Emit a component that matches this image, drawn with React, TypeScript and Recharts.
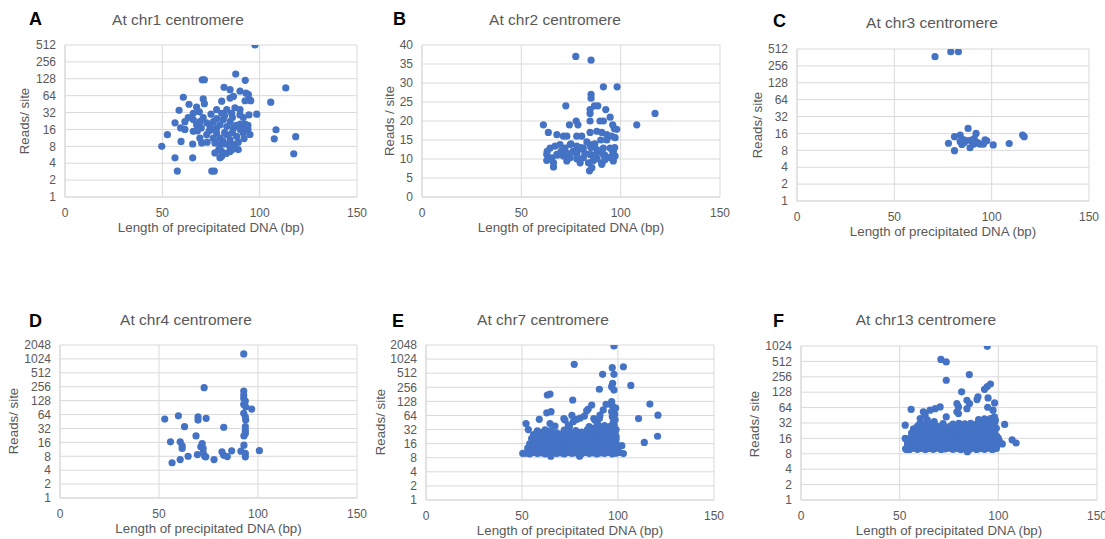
import { ScatterChart, Scatter, XAxis, YAxis, CartesianGrid } from 'recharts';

type Pt = [number, number];

const xTicks = [0, 50, 100, 150];
const log512Ticks = [1, 2, 4, 8, 16, 32, 64, 128, 256, 512];
const log1024Ticks = [1, 2, 4, 8, 16, 32, 64, 128, 256, 512, 1024];
const log2048Ticks = [1, 2, 4, 8, 16, 32, 64, 128, 256, 512, 1024, 2048];
const linear40Ticks = [0, 5, 10, 15, 20, 25, 30, 35, 40];

// [length bp, reads per site]
const chr1Points: Pt[] = [
  [97.6, 512], [87.7, 155], [70.5, 123], [71.6, 123], [92.6, 120], [113.4, 88],
  [81.7, 90], [84.8, 82], [60.8, 60], [71, 56], [71.6, 46], [63.7, 45], [80.5, 51],
  [105.7, 49], [89.9, 77], [93, 71], [94.2, 67], [95, 54], [95.4, 52], [92.5, 52],
  [84.8, 58], [86.5, 62], [58.6, 35], [67.6, 40], [69, 33], [65.9, 31], [63.3, 26],
  [61.6, 22], [56.5, 21], [77.9, 36], [80.5, 31], [83.1, 36], [85.6, 31], [87.3, 39],
  [89.9, 36], [89.9, 29], [91.6, 26], [94.5, 29], [98.5, 30],
  [65.9, 24], [67.6, 19.4], [69.3, 22], [71, 26], [72.8, 21], [74.5, 18], [76.2, 22],
  [77.9, 17], [79.6, 19.4], [81.3, 24], [83.1, 18], [84.8, 22], [86.5, 17],
  [59.4, 17], [61.6, 16], [52.6, 12.9],
  [65.9, 14.8], [69.3, 11.2], [72.8, 12.9], [76.2, 11.2], [77.9, 13.8], [79.6, 11.2],
  [83.1, 12.9], [84.8, 10.5], [88.2, 12], [91.6, 13.8], [93.3, 17], [92.5, 20],
  [59.6, 9.8], [65.6, 8.8], [70.2, 9.2], [77, 9.2], [79.6, 8.4], [82.2, 8.8], [84.8, 7.5],
  [87.3, 8.6], [89, 7], [77, 6.1], [80.5, 6.5], [84.8, 6.5],
  [49.7, 8], [56.5, 5], [65.6, 5], [79.6, 5], [80.5, 5.3], [108.4, 15.8], [107.5, 10.9],
  [118.5, 11.9], [117.5, 5.9], [57.7, 2.9], [75.4, 2.9], [76.7, 2.9],
  [74, 15], [76, 16], [82, 14], [86, 14], [88, 19], [90, 16], [92, 11], [78, 25],
  [82, 28], [86, 26], [75, 30], [70, 17], [68, 15], [73, 9.5], [81, 10], [85, 9],
  [89, 9.5], [83, 6], [86, 7], [79, 7], [94, 16], [94, 19], [90, 20], [95, 13],
];

const chr2Points: Pt[] = [
  [77.4, 37], [85.1, 36], [91.3, 29], [98.2, 29], [85.1, 27], [85.1, 26], [72.4, 24],
  [86.8, 24], [88.5, 24], [92.5, 23], [84.6, 23], [84.6, 22], [117.3, 22], [61.1, 19],
  [74.2, 19], [77.6, 20], [78.5, 19], [84.6, 20], [84.6, 17], [89.6, 20], [91.3, 20],
  [94.7, 21], [96, 19], [96.8, 18], [108.1, 19], [63.6, 17],
  [67.9, 16.4], [71.2, 16], [72.9, 16], [77.9, 16], [80.4, 16],
  [88, 17.3], [90.5, 17], [93, 16.4], [95.5, 16], [97.2, 15.6], [98, 17.8],
  [64.5, 12.9], [67, 13.4], [69.5, 13.8], [72, 12.9], [74.6, 13.8], [77.9, 13.4],
  [81.2, 12.9], [84.6, 13.8], [88, 12.5], [91.3, 12.9], [94.7, 12.9], [96.3, 12.1],
  [62.8, 11.2], [65.4, 10.3], [67.9, 11.2], [71.2, 10.8], [74.6, 10.3], [77.9, 11.2],
  [81.2, 10.3], [84.6, 11.2], [88, 10.3], [91.3, 11.2], [94.7, 10.3], [97.2, 10.8],
  [62.8, 9.6], [66.2, 9], [72.9, 9.5], [79.6, 9], [83.8, 9], [90.5, 9], [96.3, 9.5],
  [66.2, 7.9], [84.3, 6.9], [85.5, 7.7], [90.5, 8.6],
  [70, 12], [73, 11.5], [76, 12], [79, 12.5], [82, 11.5], [86, 11], [89, 12], [92, 11],
  [95, 10.5], [87, 14], [90, 15], [93, 15], [83, 14.5], [80, 13], [75, 14], [68, 11],
  [63, 12], [86, 9.5], [92, 9.8], [96, 12], [97, 13], [85, 13], [88, 10], [78, 10],
];

const chr3Points: Pt[] = [
  [70.9, 374], [79, 458], [82.9, 458], [87.9, 19.7], [92, 16], [80.9, 14], [83.8, 15],
  [77.8, 10.7], [80.9, 7.9], [83.8, 11.5], [84.7, 10.2], [86, 11], [89, 12], [90, 11.5],
  [90.8, 10.3], [92.8, 11], [94, 10.3], [95.7, 10.3], [96.6, 12.3], [88.9, 8.9],
  [100.8, 10], [109, 10.6], [115.9, 15], [116.7, 14], [85, 12.5], [91, 13], [86.5, 12],
  [97.5, 11.8],
];

const chr4Points: Pt[] = [
  [92.8, 1314], [72.8, 244], [92.8, 207], [92.8, 169], [92.8, 143], [93.6, 125],
  [92.8, 106], [93.8, 94], [96.8, 84], [92.8, 68], [93.6, 57], [93.8, 48.5], [52.9, 51],
  [59.8, 60], [69.7, 57], [69.7, 48.5], [73.8, 53], [62.9, 35], [82.7, 34], [93.6, 35],
  [93.6, 29], [93.6, 25], [92.9, 22], [68.7, 22], [55.8, 16.4], [60.7, 16.4], [61.7, 13.5],
  [61.7, 11.8], [71.8, 15], [71.1, 12.8], [72.3, 11.8], [92.9, 13.9], [69.4, 8.7],
  [72.3, 9.6], [73.1, 8], [73.6, 7.8], [81.8, 10], [82.7, 8.4], [84.5, 7.9], [86.7, 10.5],
  [91.4, 10.3], [93.6, 9.2], [93.6, 7.8], [100.7, 10.6], [64.7, 8], [60.7, 6.8],
  [56.6, 5.8], [77.8, 6.8],
];

const chr7Points: Pt[] = [
  [97.9, 1950], [77.2, 793], [97, 670], [102.8, 703], [97.9, 484], [92, 484], [97.2, 311],
  [96.7, 263], [97.9, 223], [90.3, 232], [106.7, 280], [63.2, 175], [64.6, 184],
  [76.4, 137], [96.7, 126], [97.6, 98], [96.7, 77], [93.8, 111], [86.3, 107], [84.5, 88],
  [83.7, 81], [92.3, 84], [90.6, 65], [82.5, 62], [80.2, 56], [78.5, 53], [76.7, 47],
  [62.9, 73], [65.1, 77], [59, 53], [52.1, 43], [53.3, 32], [72.4, 51], [74.1, 40],
  [64.6, 43], [67.2, 38], [88, 51], [89.2, 43], [116.6, 112], [120.8, 65], [110.7, 55],
  [120.6, 23], [113.7, 17], [102.8, 9.8], [50.4, 9.9], [71.8, 55], [76, 64], [87.4, 55],
  [90.3, 55], [74.7, 37],
  [52, 10], [54, 9.6], [56, 10.3], [58, 9.8], [60, 10.2], [62, 9.7], [64, 10], [65, 8.6],
  [66, 10.4], [68, 9.8], [70, 10.1], [72, 9.6], [74, 10.3], [76, 9.9], [78, 10.2],
  [80, 8.6], [81, 9.7], [83, 10.3], [85, 9.8], [87, 10.1], [89, 9.6], [91, 10.2],
  [93, 9.9], [95, 10.3], [97, 9.7], [99, 10], [100.5, 10.4],
  [53.5, 11.2], [56.5, 11], [59.5, 11.4], [62.5, 11.1], [65.5, 11.3], [68.5, 11],
  [71.5, 11.4], [74.5, 11.1], [77.5, 11.3], [80.5, 11], [83.5, 11.4], [86.5, 11.1],
  [89.5, 11.3], [92.5, 11], [95.5, 11.4], [98.5, 11.2],
  [53, 12.8], [55.5, 12.2], [58, 12.9], [60.5, 12.3], [63, 12.7], [65.5, 12.1], [68, 12.8],
  [70.5, 12.4], [73, 12.6], [75.5, 12.2], [78, 12.9], [80.5, 12.3], [83, 12.7],
  [85.5, 12.2], [88, 12.8], [90.5, 12.4], [93, 12.7], [95.5, 12.1], [98, 12.8],
  [100, 12.3], [102, 14.5],
  [55, 14.2], [58.5, 13.8], [61.5, 14.3], [64.5, 13.9], [67.5, 14.1], [70.5, 14.4],
  [73.5, 13.8], [76.5, 14.2], [79.5, 13.9], [82.5, 14.3], [85.5, 14], [88.5, 14.2],
  [91.5, 13.8], [94.5, 14.3], [97.5, 14], [100, 14.1],
  [54, 15.8], [57, 16.4], [60, 15.6], [63, 16.3], [66, 15.9], [69, 16.5], [72, 15.7],
  [75, 16.2], [78, 15.8], [81, 16.4], [84, 15.6], [87, 16.3], [90, 15.9], [93, 16.4],
  [96, 15.7], [99, 16.2],
  [56, 18], [59.5, 18.3], [62.5, 17.8], [65.5, 18.2], [68.5, 17.9], [71.5, 18.4],
  [74.5, 18], [77.5, 18.2], [80.5, 17.8], [83.5, 18.3], [86.5, 17.9], [89.5, 18.1],
  [92.5, 18.4], [95.5, 17.8], [98.5, 18.2],
  [55, 20.5], [58, 19.6], [61, 20.3], [64, 19.8], [67, 20.6], [70, 19.7], [73, 20.4],
  [76, 19.9], [79, 20.5], [82, 19.6], [85, 20.3], [88, 19.8], [91, 20.6], [94, 19.7],
  [97, 20.4], [99, 19.9],
  [57, 22.5], [61.5, 22], [65, 22.8], [68.5, 22.2], [72, 22.7], [75.5, 22.1], [78.5, 22.6],
  [81.5, 22.3], [84.5, 22.8], [87.5, 22], [90.5, 22.5], [93.5, 22.9], [96.5, 22.2],
  [99, 22.6],
  [56, 25], [60, 24.3], [63, 25.5], [66, 24.6], [70, 25.2], [74, 24.5], [77, 25.6],
  [80, 24.8], [83, 25.3], [86, 24.6], [89, 25.5], [92, 24.8], [95, 25.4], [98, 24.7],
  [60, 27.5], [64, 28], [68, 27.2], [75, 27.8], [81, 28.2], [86, 27.6], [90, 28.3],
  [93, 27.4], [96, 28], [98.5, 27.7],
  [58, 30], [62, 31.5], [65, 30.5], [72, 31], [78, 30.2], [84, 31.6], [88, 30.8],
  [91, 31.4], [94, 30.6], [97, 31.2], [99, 32],
  [87, 34], [92, 34.5], [95, 35], [97.5, 35.5],
  [85, 37], [90, 38.5], [93, 39], [96, 37.5], [98, 40],
  [97.5, 45], [98.5, 52], [97, 60], [98.3, 68], [97.6, 80], [98.8, 92], [96.5, 108],
];

const chr13Points: Pt[] = [
  [94.4, 1010], [70.9, 560], [73.6, 500], [85.3, 283], [73.6, 219], [81.4, 130], [96, 185],
  [94.4, 165], [93, 146], [94.8, 99], [89.7, 104], [89.2, 92], [98.1, 79], [84.1, 89],
  [85.4, 77], [84.1, 61], [79, 77], [79.8, 66], [79, 53], [79.8, 49], [62, 53],
  [65.4, 57], [68, 61], [70.5, 66], [60.4, 39], [62.9, 46], [55.8, 59], [52.8, 29],
  [52.8, 16], [53.6, 9.7], [67.5, 34], [73.6, 42], [103.2, 30], [107, 15], [109, 13],
  [101, 13], [97, 19], [94.6, 65], [97.3, 57],
  [53, 10], [55, 9.7], [57, 10.3], [59, 9.8], [61, 10.2], [63, 9.7], [65, 10.1],
  [67, 9.8], [69, 10.3], [71, 9.7], [73, 10], [75, 10.3], [77, 9.8], [79, 10.1],
  [81, 9.7], [83, 10.2], [84.3, 8.8], [85.5, 9.8], [87, 10.3], [89, 9.7], [91, 10.1],
  [93, 9.8], [95, 10.3], [97, 9.7], [99, 10.1],
  [54, 11.2], [57, 11], [60, 11.4], [63, 11.1], [66, 11.3], [69, 11], [72, 11.4],
  [75, 11.1], [78, 11.3], [81, 11], [84, 11.4], [87, 11.1], [90, 11.3], [93, 11],
  [96, 11.4], [99, 11.2],
  [54, 12.7], [57, 12.2], [60, 12.8], [63, 12.3], [66, 12.6], [69, 12.1], [72, 12.7],
  [75, 12.3], [78, 12.8], [81, 12.2], [84, 12.6], [87, 12.3], [90, 12.8], [93, 12.2],
  [96, 12.7], [99, 12.3], [102, 12.5],
  [55.5, 14.2], [58.5, 13.8], [61.5, 14.3], [64.5, 13.9], [67.5, 14.1], [70.5, 14.4],
  [73.5, 13.8], [76.5, 14.2], [79.5, 13.9], [82.5, 14.3], [85.5, 14], [88.5, 14.2],
  [91.5, 13.8], [94.5, 14.3], [97.5, 14], [100.5, 14.1],
  [55, 15.8], [58, 16.3], [61, 15.7], [64, 16.4], [67, 15.9], [70, 16.2], [73, 15.6],
  [76, 16.4], [79, 15.8], [82, 16.3], [85, 15.7], [88, 16.4], [91, 15.9], [94, 16.2],
  [97, 15.7], [100, 16.3],
  [57, 18], [60, 18.3], [63, 17.8], [66, 18.2], [69, 17.9], [72, 18.4], [75, 18],
  [78, 18.2], [81, 17.8], [84, 18.3], [87, 17.9], [90, 18.1], [93, 18.4], [96, 17.8],
  [99, 18.2],
  [56, 20.4], [59, 19.7], [62, 20.5], [65, 19.8], [68, 20.3], [71, 19.6], [74, 20.4],
  [77, 19.9], [80, 20.6], [83, 19.7], [86, 20.3], [89, 19.8], [92, 20.5], [95, 19.6],
  [98, 20.2],
  [58, 22.5], [62, 22], [65.5, 22.8], [69, 22.2], [72.5, 22.7], [76, 22.1], [79.5, 22.6],
  [82.5, 22.3], [85.5, 22.8], [88.5, 22], [91.5, 22.5], [94.5, 22.9], [97.5, 22.2],
  [57, 24.5], [61, 25.3], [64, 24.7], [67, 25.5], [70, 24.6], [74, 25.2], [78, 24.8],
  [81, 25.4], [84, 24.6], [87, 25.3], [90, 24.7], [93, 25.5], [96, 24.8], [99, 25.2],
  [59, 27.5], [62.5, 28], [65.5, 27.2], [69, 27.8], [72, 28.2], [75.5, 27.6], [79, 28.3],
  [82, 27.4], [85, 28], [88, 27.7], [91, 28.2], [94, 27.5], [97, 28.1],
  [60, 30.5], [63, 31.5], [66, 30.8], [72, 31.2], [77, 30.6], [80, 31.4], [83, 30.7],
  [86, 31.5], [89, 30.9], [92, 31.3], [95, 30.6], [98, 31.6],
  [93.5, 34], [96.5, 35], [98.5, 36],
  [64, 37], [90, 37.5], [93, 38.5], [96, 39], [98, 42],
];

const FONT = '"Liberation Sans", Arial, Helvetica, sans-serif';
const TEXT = '#595959';
const GRID = '#D9D9D9';
const BLUE = '#4472C4';

// plot rect: left, top, right, bottom (px on the page)
const panels = [
  { letter: 'A', letterX: 29, letterY: 25, title: 'At chr1 centromere', titleX: 178, titleY: 25,
    yLabel: 'Reads/ site', yLabelX: 24, yLabelY: 121, points: chr1Points, yTicks: log512Ticks,
    log: true, plot: [65, 45, 357, 197] },
  { letter: 'B', letterX: 393, letterY: 25, title: 'At chr2 centromere', titleX: 555, titleY: 25,
    yLabel: 'Reads / site', yLabelX: 389, yLabelY: 121, points: chr2Points, yTicks: linear40Ticks,
    log: false, plot: [422, 45, 720, 197] },
  { letter: 'C', letterX: 773, letterY: 27, title: 'At chr3 centromere', titleX: 932, titleY: 28,
    yLabel: 'Reads/ site', yLabelX: 757, yLabelY: 125, points: chr3Points, yTicks: log512Ticks,
    log: true, plot: [797, 49, 1089, 201] },
  { letter: 'D', letterX: 29, letterY: 327, title: 'At chr4 centromere', titleX: 186, titleY: 325,
    yLabel: 'Reads/ site', yLabelX: 13, yLabelY: 421, points: chr4Points, yTicks: log2048Ticks,
    log: true, plot: [60, 345, 357, 498] },
  { letter: 'E', letterX: 392, letterY: 327, title: 'At chr7 centromere', titleX: 543, titleY: 325,
    yLabel: 'Reads/ site', yLabelX: 380, yLabelY: 422, points: chr7Points, yTicks: log2048Ticks,
    log: true, plot: [426, 345, 714, 500] },
  { letter: 'F', letterX: 773, letterY: 327, title: 'At chr13 centromere', titleX: 926, titleY: 325,
    yLabel: 'Reads/ site', yLabelX: 754, yLabelY: 424, points: chr13Points, yTicks: log1024Ticks,
    log: true, plot: [801, 346, 1097, 500] },
];

const Dot = (props: any) => <circle cx={props.cx} cy={props.cy} r={3.6} fill={BLUE} />;

const tickStyle = { fill: TEXT, fontSize: 12, fontFamily: FONT };

function Panel({ p }: { p: (typeof panels)[number] }) {
  const [L, T, R, B] = p.plot;
  const left = L - 50;
  const top = T - 12;
  const width = R - left + 14;
  const height = B - top + 32;
  const data = p.points.map(([x, y]) => ({ x, y }));
  const yDomain = [p.yTicks[0], p.yTicks[p.yTicks.length - 1]];
  return (
    <div style={{ position: 'absolute', left, top }}>
      <ScatterChart width={width} height={height} margin={{ top: 12, right: 14, bottom: 2, left: 0 }}>
        <CartesianGrid stroke={GRID} />
        <XAxis
          type="number"
          dataKey="x"
          domain={[0, 150]}
          ticks={xTicks}
          interval={0}
          height={30}
          tickSize={0}
          tickMargin={11}
          tickLine={false}
          axisLine={{ stroke: GRID }}
          tick={tickStyle}
        />
        <YAxis
          type="number"
          dataKey="y"
          scale={p.log ? 'log' : 'linear'}
          domain={yDomain}
          ticks={p.yTicks}
          interval={0}
          allowDataOverflow
          width={50}
          tickSize={0}
          tickMargin={9}
          tickLine={false}
          axisLine={{ stroke: GRID }}
          tick={tickStyle}
        />
        <Scatter data={data} shape={Dot} isAnimationActive={false} />
      </ScatterChart>
    </div>
  );
}

export default function App() {
  return (
    <div style={{ position: 'absolute', left: 0, top: 0, width: 1105, height: 539, background: '#fff' }}>
      {panels.map((p) => (
        <Panel key={p.letter} p={p} />
      ))}
      <svg width={1105} height={539} style={{ position: 'absolute', left: 0, top: 0, pointerEvents: 'none' }}>
        {panels.map((p) => {
          const [L, , R, B] = p.plot;
          return (
            <g key={p.letter} fontFamily={FONT}>
              <text x={p.letterX} y={p.letterY} fontSize={18} fontWeight="bold" fill="#000">
                {p.letter}
              </text>
              <text x={p.titleX} y={p.titleY} fontSize={15.5} fill={TEXT} textAnchor="middle">
                {p.title}
              </text>
              <text
                x={p.yLabelX + 4.8}
                y={p.yLabelY}
                fontSize={13.3}
                fill={TEXT}
                textAnchor="middle"
                transform={`rotate(-90 ${p.yLabelX + 4.8} ${p.yLabelY})`}
              >
                {p.yLabel}
              </text>
              <text x={(L + R) / 2} y={B + 34.5} fontSize={13.3} fill={TEXT} textAnchor="middle">
                Length of precipitated DNA (bp)
              </text>
            </g>
          );
        })}
      </svg>
    </div>
  );
}
